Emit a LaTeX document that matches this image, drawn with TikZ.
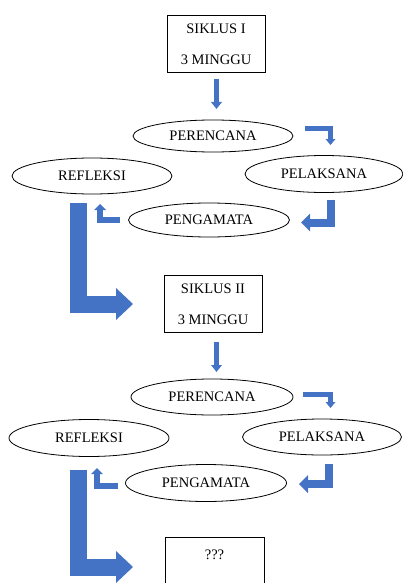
\documentclass[tikz,border=0pt]{standalone}
\usepackage{fontspec}
\setmainfont{Liberation Serif}
\usetikzlibrary{arrows.meta,shapes.geometric}
\definecolor{arrowblue}{RGB}{68,114,196}
\tikzset{
  lbl/.style={font=\fontsize{14.5}{31}\selectfont, text=black},
  boxnode/.style={draw=black, line width=0.9pt, minimum width=98pt, minimum height=57pt, inner sep=0pt, align=center, lbl},
  oval/.style={ellipse, draw=black, line width=0.8pt, inner sep=0pt, lbl},
  barrow/.style={draw=arrowblue, line join=miter, line cap=butt},
}
\begin{document}
\begin{tikzpicture}[x=1pt,y=-1pt]
\useasboundingbox (0,0) rectangle (403,583);

% ---- Cycle I ----
\node[boxnode] (b1) at (216,44) {SIKLUS I\\3 MINGGU};
\node[oval, minimum width=160pt, minimum height=32pt] (per1) at (213,136) {PERENCANA};
\node[oval, minimum width=160pt, minimum height=36pt] (ref1) at (92,176) {REFLEKSI};
\node[oval, minimum width=158pt, minimum height=37pt] (pel1) at (324,174) {PELAKSANA};
\node[oval, minimum width=161pt, minimum height=34pt] (pen1) at (209,220) {PENGAMATA};

% ---- Cycle II ----
\node[boxnode] (b2) at (213,304) {SIKLUS II\\3 MINGGU};
\node[oval, minimum width=162pt, minimum height=36pt] (per2) at (212,397) {PERENCANA};
\node[oval, minimum width=160pt, minimum height=37pt] (ref2) at (89,438) {REFLEKSI};
\node[oval, minimum width=159pt, minimum height=36pt] (pel2) at (322,437) {PELAKSANA};
\node[oval, minimum width=161pt, minimum height=37pt] (pen2) at (206,483) {PENGAMATA};

% ---- final box ----
\node[draw=black, line width=0.9pt, minimum width=99pt, minimum height=66pt, inner sep=0pt, anchor=north] (b3) at (214.5,537) {};
\node[lbl] (q3) at (214.5,555) {???};

% ---- arrow coordinates ----
\coordinate (d1s) at (216.5,79);  \coordinate (d1e) at (216.5,109);
\coordinate (d2s) at (216.5,342); \coordinate (d2e) at (216.5,372);

\coordinate (a1s) at (305,128.5); \coordinate (a1c) at (330.5,128.5); \coordinate (a1e) at (330.5,145);
\coordinate (b1s) at (331,200);   \coordinate (b1c) at (331,222.5);   \coordinate (b1e) at (301,222.5);
\coordinate (c1s) at (120,220);   \coordinate (c1c) at (100,220);     \coordinate (c1e) at (100,204);
\coordinate (g1s) at (78,203);    \coordinate (g1c) at (78,304);      \coordinate (g1e) at (133,304);

\coordinate (a2s) at (303,394.5); \coordinate (a2c) at (330.5,394.5); \coordinate (a2e) at (330.5,408);
\coordinate (b2s) at (329,464);   \coordinate (b2c) at (329,484);     \coordinate (b2e) at (299,484);
\coordinate (c2s) at (118,486);   \coordinate (c2c) at (97,486);      \coordinate (c2e) at (97,468);
\coordinate (g2s) at (78,470);    \coordinate (g2c) at (78,567);      \coordinate (g2e) at (133,567);

% ---- block arrows ----
\draw[barrow, line width=5pt, -{Triangle[width=11pt,length=7pt,line width=0pt]}] (d1s) -- (d1e);
\draw[barrow, line width=5pt, -{Triangle[width=11pt,length=7pt,line width=0pt]}] (d2s) -- (d2e);

\draw[barrow, line width=5pt, -{Triangle[width=10pt,length=6pt,line width=0pt]}] (a1s) -- (a1c) -- (a1e);
\draw[barrow, line width=8pt, -{Triangle[width=18pt,length=9pt,line width=0pt]}] (b1s) -- (b1c) -- (b1e);
\draw[barrow, line width=6pt, -{Triangle[width=12pt,length=6pt,line width=0pt]}] (c1s) -- (c1c) -- (c1e);
\draw[barrow, line width=17pt, -{Triangle[width=32pt,length=17pt,line width=0pt]}] (g1s) -- (g1c) -- (g1e);

\draw[barrow, line width=5pt, -{Triangle[width=10pt,length=6pt,line width=0pt]}] (a2s) -- (a2c) -- (a2e);
\draw[barrow, line width=8pt, -{Triangle[width=18pt,length=9pt,line width=0pt]}] (b2s) -- (b2c) -- (b2e);
\draw[barrow, line width=6pt, -{Triangle[width=12pt,length=6pt,line width=0pt]}] (c2s) -- (c2c) -- (c2e);
\draw[barrow, line width=17pt, -{Triangle[width=32pt,length=17pt,line width=0pt]}] (g2s) -- (g2c) -- (g2e);
\end{tikzpicture}
\end{document}
